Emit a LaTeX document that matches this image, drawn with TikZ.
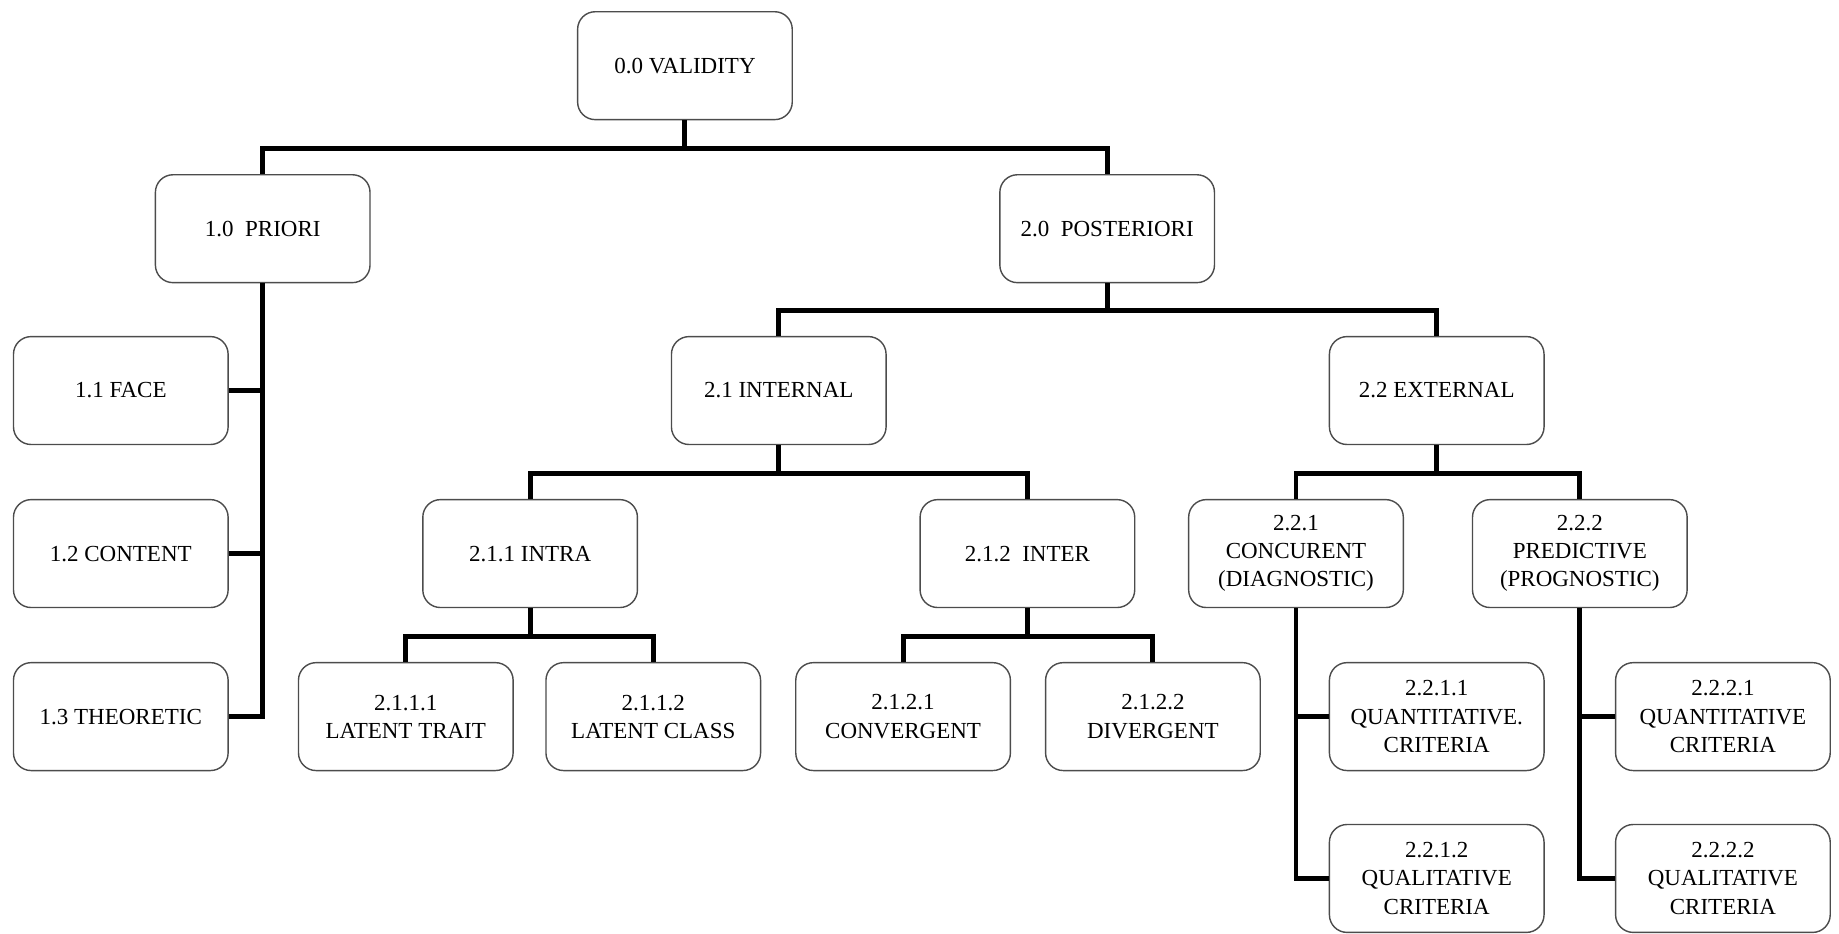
\documentclass[tikz,border=0pt]{standalone}
\usepackage{fontspec}
\setmainfont{Liberation Serif}
\begin{document}
\begin{tikzpicture}[x=0.5pt,y=-0.5pt,
  box/.style={draw=black!70, line width=0.6pt, rounded corners=7.5pt, fill=white,
    minimum width=91.5pt, minimum height=46pt, align=center, inner sep=1pt,
    font=\fontsize{9.8}{12}\selectfont},
  conn/.style={line width=2.1pt, line join=miter, draw=black}]
\useasboundingbox (0,0) rectangle (1568,796);
% nodes
\node[box] (v)    at (584,56)  {0.0 VALIDITY};
\node[box] (pri)  at (224,195) {1.0\ \ PRIORI};
\node[box] (post) at (944,195) {2.0\ \ POSTERIORI};
\node[box] (face) at (103,333) {1.1 FACE};
\node[box] (cont) at (103,472) {1.2 CONTENT};
\node[box] (theo) at (103,611) {1.3 THEORETIC};
\node[box] (int)  at (664,333) {2.1 INTERNAL};
\node[box] (ext)  at (1225,333) {2.2 EXTERNAL};
\node[box] (intra) at (452,472) {2.1.1 INTRA};
\node[box] (inter) at (876,472) {2.1.2\ \ INTER};
\node[box] (conc) at (1105,472) {2.2.1\\CONCURENT\\(DIAGNOSTIC)};
\node[box] (pred) at (1347,472) {2.2.2\\PREDICTIVE\\(PROGNOSTIC)};
\node[box] (lt)   at (346,611) {2.1.1.1\\LATENT TRAIT};
\node[box] (lc)   at (557,611) {2.1.1.2\\LATENT CLASS};
\node[box] (cv)   at (770,611) {2.1.2.1\\CONVERGENT};
\node[box] (dv)   at (983,611) {2.1.2.2\\DIVERGENT};
\node[box] (qn1)  at (1225,611) {2.2.1.1\\QUANTITATIVE.\\CRITERIA};
\node[box] (ql1)  at (1225,749) {2.2.1.2\\QUALITATIVE\\CRITERIA};
\node[box] (qn2)  at (1469,611) {2.2.2.1\\QUANTITATIVE\\CRITERIA};
\node[box] (ql2)  at (1469,749) {2.2.2.2\\QUALITATIVE\\CRITERIA};
% bus levels
\coordinate (b1) at (0,127);
\coordinate (b2) at (0,265);
\coordinate (b3) at (0,404);
\coordinate (b4) at (0,543);
% level 0 -> 1
\draw[conn] (v.south) -- (v.south |- b1);
\draw[conn] (pri.north) -- (pri.north |- b1) -- (post.north |- b1) -- (post.north);
% priori trunk
\draw[conn] (pri.south) -- (pri.south |- theo.east) -- (theo.east);
\draw[conn] (face.east) -- (face.east -| pri.south);
\draw[conn] (cont.east) -- (cont.east -| pri.south);
% posteriori
\draw[conn] (post.south) -- (post.south |- b2);
\draw[conn] (int.north) -- (int.north |- b2) -- (ext.north |- b2) -- (ext.north);
% internal
\draw[conn] (int.south) -- (int.south |- b3);
\draw[conn] (intra.north) -- (intra.north |- b3) -- (inter.north |- b3) -- (inter.north);
% external
\draw[conn] (ext.south) -- (ext.south |- b3);
\draw[conn] (conc.north) -- (conc.north |- b3) -- (pred.north |- b3) -- (pred.north);
% intra
\draw[conn] (intra.south) -- (intra.south |- b4);
\draw[conn] (lt.north) -- (lt.north |- b4) -- (lc.north |- b4) -- (lc.north);
% inter
\draw[conn] (inter.south) -- (inter.south |- b4);
\draw[conn] (cv.north) -- (cv.north |- b4) -- (dv.north |- b4) -- (dv.north);
% concurent trunk
\draw[conn] (conc.south) -- (conc.south |- ql1.west) -- (ql1.west);
\draw[conn] (qn1.west) -- (qn1.west -| conc.south);
% predictive trunk
\draw[conn] (pred.south) -- (pred.south |- ql2.west) -- (ql2.west);
\draw[conn] (qn2.west) -- (qn2.west -| pred.south);
\end{tikzpicture}
\end{document}
